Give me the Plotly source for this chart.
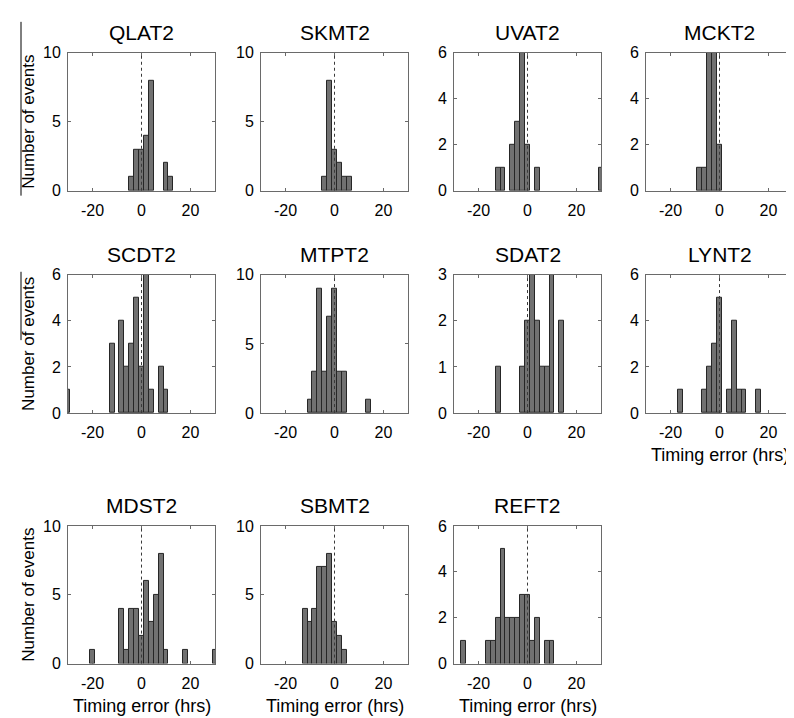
import plotly.graph_objects as go

# ---------------- data (bin centres in hours, counts) ----------------
stations = ["QLAT2", "SKMT2", "UVAT2", "MCKT2",
            "SCDT2", "MTPT2", "SDAT2", "LYNT2",
            "MDST2", "SBMT2", "REFT2"]

qlat2_centers = [-4, -2, 0, 2, 4, 10, 12]
qlat2_counts = [1, 3, 3, 4, 8, 2, 1]

skmt2_centers = [-4, -2, 0, 2, 4, 6]
skmt2_counts = [1, 8, 3, 2, 1, 1]

uvat2_centers = [-12, -10, -6, -4, -2, 0, 4, 30]
uvat2_counts = [1, 1, 2, 3, 6, 2, 1, 1]

mckt2_centers = [-8, -6, -4, -2, 0]
mckt2_counts = [1, 1, 6, 6, 2]

scdt2_centers = [-30, -12, -8, -6, -4, -2, 0, 2, 4, 8, 10]
scdt2_counts = [1, 3, 4, 2, 3, 5, 2, 6, 1, 2, 1]

mtpt2_centers = [-10, -8, -6, -4, -2, 0, 2, 4, 14]
mtpt2_counts = [1, 3, 9, 3, 7, 9, 3, 3, 1]

sdat2_centers = [-12, -2, 0, 2, 4, 6, 8, 10, 14]
sdat2_counts = [1, 1, 2, 3, 2, 1, 1, 3, 2]

lynt2_centers = [-16, -6, -4, -2, 0, 4, 6, 8, 10, 16]
lynt2_counts = [1, 1, 2, 3, 5, 1, 4, 1, 1, 1]

mdst2_centers = [-20, -8, -6, -4, -2, 0, 2, 4, 6, 8, 10, 18, 30]
mdst2_counts = [1, 4, 1, 4, 4, 2, 6, 3, 5, 8, 1, 1, 1]

sbmt2_centers = [-12, -10, -8, -6, -4, -2, 0, 2, 4]
sbmt2_counts = [4, 3, 4, 7, 7, 8, 3, 2, 1]

reft2_centers = [-26, -16, -14, -12, -10, -8, -6, -4, -2, 0, 2, 4, 8, 10]
reft2_counts = [1, 1, 1, 2, 5, 2, 2, 2, 3, 3, 1, 2, 1, 1]

centers = [qlat2_centers, skmt2_centers, uvat2_centers, mckt2_centers,
           scdt2_centers, mtpt2_centers, sdat2_centers, lynt2_centers,
           mdst2_centers, sbmt2_centers, reft2_centers]
counts = [qlat2_counts, skmt2_counts, uvat2_counts, mckt2_counts,
          scdt2_counts, mtpt2_counts, sdat2_counts, lynt2_counts,
          mdst2_counts, sbmt2_counts, reft2_counts]

y_max = [10, 10, 6, 6, 6, 10, 3, 6, 10, 10, 6]
y_ticks = {10: [0, 5, 10], 6: [0, 2, 4, 6], 3: [0, 1, 2, 3]}
x_ticks = [-20, 0, 20]
x_ticktext = ["-20", "0", "20"]
x_range = [-30, 30]
bin_width = 2

ylabel = "Number of events"
xlabel = "Timing error (hrs)"
xlabel_panels = ["LYNT2", "MDST2", "SBMT2", "REFT2"]

# ---------------- layout geometry (pixels) ----------------
W, H = 794, 718
col_left = [60, 253, 446, 638]
plot_w = 147
rows_px = [(37.7, 179.0), (265.0, 406.7), (522.3, 663.3)]

def fx(p):
    return p / W

def fy(p):
    return 1 - p / H

fig = go.Figure()
annotations = []
shapes = []
FONT = "Liberation Sans, Arial, Helvetica, sans-serif"
axis_color = "#6a6a6a"

for i, name in enumerate(stations):
    r, c = divmod(i, 4)
    n = i + 1
    xa = "x" if n == 1 else f"x{n}"
    ya = "y" if n == 1 else f"y{n}"
    fig.add_trace(go.Bar(
        x=centers[i], y=counts[i], width=bin_width,
        marker=dict(color="#717171", line=dict(color="#262626", width=1)),
        xaxis=xa, yaxis=ya, showlegend=False, hoverinfo="x+y"))
    top, bot = rows_px[r]
    left = col_left[c]
    common = dict(showline=True, linecolor=axis_color, linewidth=1, mirror="ticks",
                  ticks="inside", ticklen=3, tickcolor=axis_color, showgrid=False,
                  zeroline=False, tickfont=dict(size=16, color="black", family=FONT),
                  fixedrange=True)
    fig.update_layout(**{
        ("xaxis" if n == 1 else f"xaxis{n}"): dict(
            domain=[fx(left), fx(left + plot_w)], range=x_range,
            tickvals=x_ticks, ticktext=x_ticktext, anchor=ya,
            ticklabelstandoff=5, **common),
        ("yaxis" if n == 1 else f"yaxis{n}"): dict(
            domain=[fy(bot), fy(top)], range=[0, y_max[i]],
            tickvals=y_ticks[y_max[i]], anchor=xa, ticklabelstandoff=3, **common),
    })
    # dashed zero line
    shapes.append(dict(type="line", xref=xa, yref=ya, x0=0, x1=0, y0=0, y1=y_max[i],
                       line=dict(color="#3a3a3a", width=1, dash="dot"), layer="above"))
    # title
    annotations.append(dict(text=name, xref="paper", yref="paper",
                            x=fx(left + plot_w / 2), y=fy(top - 7),
                            xanchor="center", yanchor="bottom", showarrow=False,
                            font=dict(size=21, color="black", family=FONT)))
    if c == 0:
        annotations.append(dict(text=ylabel, xref="paper", yref="paper",
                                x=fx(21), y=fy((top + bot) / 2), textangle=-90,
                                xanchor="center", yanchor="middle", showarrow=False,
                                font=dict(size=17, color="black", family=FONT)))
    if name in xlabel_panels:
        annotations.append(dict(text=xlabel, xref="paper", yref="paper",
                                x=fx(left + plot_w / 2), y=fy(bot + 31),
                                xanchor="center", yanchor="top", showarrow=False,
                                font=dict(size=18, color="black", family=FONT)))

# scanning artefact lines on the left margin
shapes.append(dict(type="line", xref="paper", yref="paper",
                   x0=fx(13), x1=fx(13), y0=fy(6), y1=fy(184),
                   line=dict(color="black", width=1)))
shapes.append(dict(type="line", xref="paper", yref="paper",
                   x0=fx(13), x1=fx(13), y0=fy(262), y1=fy(332),
                   line=dict(color="black", width=1)))

fig.update_layout(width=W, height=H, margin=dict(l=0, r=0, t=0, b=0),
                  paper_bgcolor="white", plot_bgcolor="white",
                  bargap=0, annotations=annotations, shapes=shapes,
                  font=dict(family=FONT, color="black"))

fig.write_html("out.html")
